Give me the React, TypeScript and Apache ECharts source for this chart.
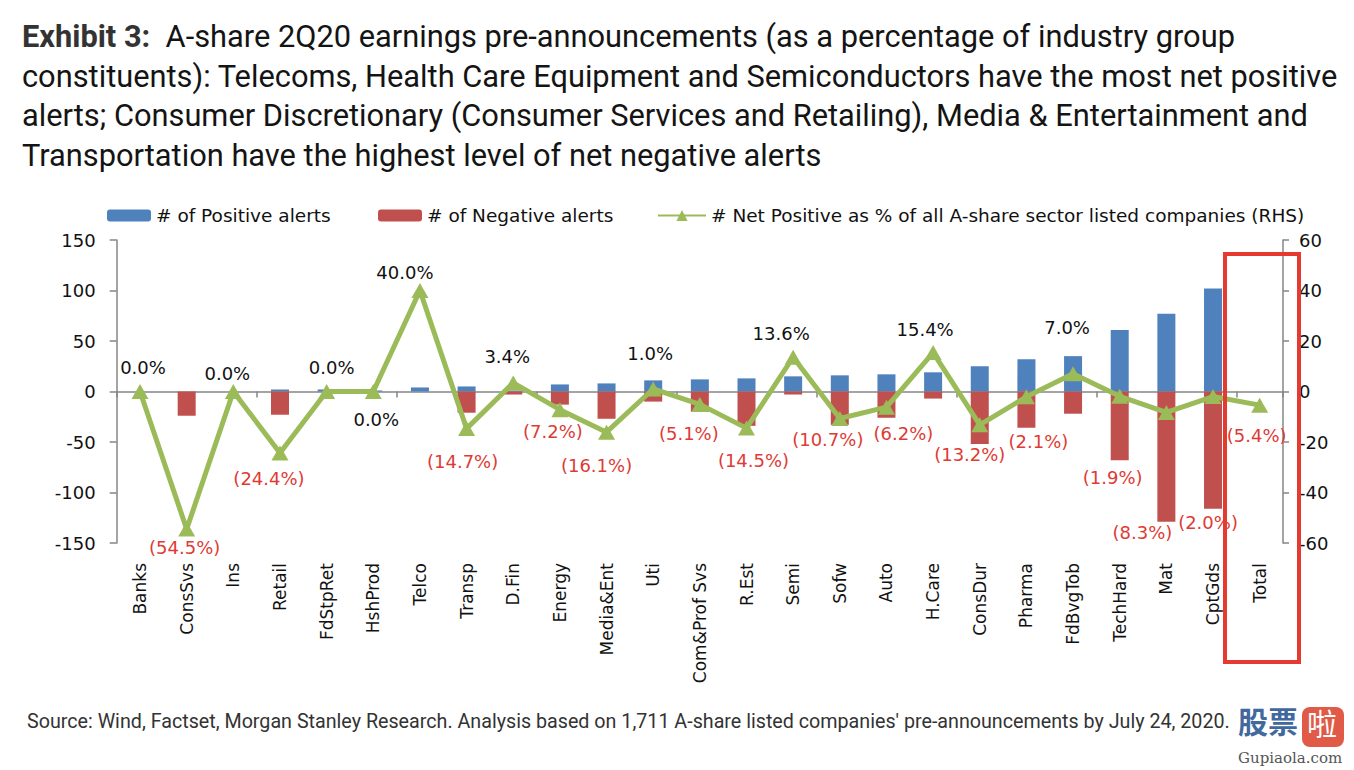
import React, { useEffect, useRef } from "react";
import * as echarts from "echarts";

const categories = [
  "Banks", "ConsSvs", "Ins", "Retail", "FdStpRet", "HshProd", "Telco", "Transp", "D.Fin", "Energy",
  "Media&Ent", "Uti", "Com&Prof Svs", "R.Est", "Semi", "Sofw", "Auto", "H.Care", "ConsDur", "Pharma",
  "FdBvgTob", "TechHard", "Mat", "CptGds", "Total",
];
const positiveAlerts = [0, 0, 0, 2, 2, 1, 4, 5, 1, 7, 8, 11, 12, 13, 15, 16, 17, 19, 25, 32, 35, 61, 77, 102, 0];
const negativeAlerts = [0, -24, 0, -23, 0, 0, 0, -21, -3, -13, -27, -10, -20, -34, -3, -33, -26, -7, -52, -36, -22, -68, -129, -116, 0];
const netPositivePct = [0, -54.5, 0, -24.4, 0, 0, 40.0, -14.7, 3.4, -7.2, -16.1, 1.0, -5.1, -14.5, 13.6, -10.7, -6.2, 15.4, -13.2, -2.1, 7.0, -1.9, -8.3, -2.0, -5.4];
const leftTicks = { min: -150, max: 150, interval: 50 };
const rightTicks = { min: -60, max: 60, interval: 20 };

// label nudges (style only): [dx, dy] relative to the marker
const labelNudges: [number, number][] = [
  [3, -24], [-2, 18], [-6, -18], [-11, 25], [5, -24], [3, 28], [-15, -18], [-4, 33], [-6, -26], [-7, 22],
  [-10, 33], [-3, -35], [-11, 29], [7, 32], [-12, -24], [-12, 21], [17, 26], [-8, -23], [-10, 30], [12, 45],
  [-6, -46], [-7, 81], [-24, 120], [-5, 126], [-3, 30],
];

const TITLE_LINES = [
  "A-share 2Q20 earnings pre-announcements (as a percentage of industry group",
  "constituents): Telecoms, Health Care Equipment and Semiconductors have the most net positive",
  "alerts; Consumer Discretionary (Consumer Services and Retailing), Media & Entertainment and",
  "Transportation have the highest level of net negative alerts",
];
const SOURCE =
  "Source: Wind, Factset, Morgan Stanley Research. Analysis based on 1,711 A-share listed companies' pre-announcements by July 24, 2020.";

const BLUE = "#4F81BD";
const RED = "#C0504D";
const GREEN = "#9BBB59";
const LABEL_RED = "#DE3B35";
const AXIS_GRAY = "#868686";
const FONT = "'DejaVu Sans', sans-serif";

export default function App() {
  const ref = useRef<HTMLDivElement>(null);
  useEffect(() => {
    if (!ref.current) return;
    const chart = echarts.init(ref.current, null, { renderer: "svg" });
    const fmt = (v: number) => (v < 0 ? `(${Math.abs(v).toFixed(1)}%)` : `${v.toFixed(1)}%`);
    const legendText = { fontFamily: FONT, fontSize: 18.5, color: "#111" };
    chart.setOption({
      animation: false,
      backgroundColor: "#ffffff",
      textStyle: { fontFamily: FONT },
      title: {
        left: 22,
        top: 17,
        padding: 0,
        text: "{b|Exhibit 3:}  " + TITLE_LINES[0] + "\n" + TITLE_LINES.slice(1).join("\n"),
        textStyle: {
          fontFamily: "Roboto, sans-serif",
          fontSize: 30.8,
          fontWeight: "normal",
          color: "#141414",
          lineHeight: 39.5,
          rich: {
            b: { fontFamily: "Roboto, sans-serif", fontSize: 30.8, fontWeight: "bold", color: "#333333", lineHeight: 39.5 },
          },
        },
      },
      legend: [
        {
          left: 107, top: 206, padding: 0, itemWidth: 44, itemHeight: 12, itemGap: 4,
          data: ["# of Positive alerts"],
          textStyle: legendText,
        },
        {
          left: 378, top: 206, padding: 0, itemWidth: 44, itemHeight: 12, itemGap: 4,
          data: ["# of Negative alerts"],
          textStyle: legendText,
        },
        {
          left: 657, top: 206, padding: 0, itemWidth: 48, itemHeight: 14, itemGap: 4,
          data: ["# Net Positive as % of all A-share sector listed companies (RHS)"],
          textStyle: legendText,
        },
      ],
      grid: { left: 116.7, right: 71, top: 240, bottom: 227 },
      xAxis: [
        {
          type: "category",
          data: categories,
          position: "bottom",
          axisLine: { show: false, onZero: false },
          axisTick: { show: false },
          axisLabel: { rotate: 90, margin: 20, fontSize: 17, color: "#111", fontFamily: FONT, interval: 0 },
        },
        {
          type: "category",
          data: categories,
          position: "bottom",
          axisLine: { show: true, onZero: true, onZeroAxisIndex: 0, lineStyle: { color: AXIS_GRAY, width: 1.5 } },
          axisTick: { show: true, length: 6, lineStyle: { color: AXIS_GRAY, width: 1.5 } },
          axisLabel: { show: false },
        },
      ],
      yAxis: [
        {
          type: "value",
          ...leftTicks,
          axisLine: { show: true, lineStyle: { color: AXIS_GRAY, width: 1.5 } },
          axisTick: { show: true, length: 7, lineStyle: { color: AXIS_GRAY, width: 1.5 } },
          splitLine: { show: false },
          axisLabel: { fontSize: 18, color: "#111", fontFamily: FONT, margin: 21 },
        },
        {
          type: "value",
          ...rightTicks,
          position: "right",
          axisLine: { show: true, lineStyle: { color: AXIS_GRAY, width: 1.5 } },
          axisTick: { show: true, length: 6, lineStyle: { color: AXIS_GRAY, width: 1.5 } },
          splitLine: { show: false },
          axisLabel: { fontSize: 18, color: "#111", fontFamily: FONT, margin: 16 },
        },
      ],
      series: [
        {
          name: "# of Positive alerts",
          type: "bar",
          stack: "alerts",
          barWidth: 18,
          itemStyle: { color: BLUE },
          data: positiveAlerts,
        },
        {
          name: "# of Negative alerts",
          type: "bar",
          stack: "alerts",
          barWidth: 18,
          itemStyle: { color: RED },
          data: negativeAlerts,
        },
        {
          name: "# Net Positive as % of all A-share sector listed companies (RHS)",
          type: "line",
          yAxisIndex: 1,
          z: 5,
          symbol: "triangle",
          symbolSize: [17, 15],
          itemStyle: { color: GREEN },
          lineStyle: { color: GREEN, width: 5 },
          data: netPositivePct.map((v, i) => ({
            value: v,
            label: {
              show: true,
              position: "inside",
              offset: labelNudges[i],
              formatter: fmt(v),
              fontSize: 18,
              fontFamily: FONT,
              color: v < 0 ? LABEL_RED : "#111",
            },
          })),
        },
      ],
      graphic: [
        {
          type: "rect",
          shape: { x: 1225, y: 254, width: 74, height: 408 },
          style: { fill: "none", stroke: "#E53A30", lineWidth: 4 },
          z: 10,
        },
        {
          type: "text",
          left: 27,
          top: 711,
          style: { text: SOURCE, fontFamily: "Roboto, sans-serif", fontSize: 19.7, fill: "#333333" },
        },
        {
          type: "text",
          left: 1238,
          top: 705,
          style: { text: "股票", fontFamily: "'Noto Sans CJK SC', sans-serif", fontWeight: "bold", fontSize: 30, fill: "#41699E" },
        },
        {
          type: "rect",
          shape: { x: 1302, y: 707, width: 42, height: 40, r: 8 },
          style: { fill: "#E05A47" },
        },
        {
          type: "text",
          left: 1307,
          top: 707,
          style: { text: "啦", fontFamily: "'Noto Sans CJK SC', sans-serif", fontSize: 30, fill: "#ffffff" },
        },
        {
          type: "text",
          left: 1238,
          top: 750,
          style: { text: "Gupiaola.com", fontFamily: "'DejaVu Serif', serif", fontSize: 15, fill: "#555555" },
        },
      ],
    });
    return () => chart.dispose();
  }, []);
  return (
    <div
      ref={ref}
      style={{ position: "fixed", left: 0, top: 0, width: 1354, height: 770, background: "#fff" }}
    />
  );
}
